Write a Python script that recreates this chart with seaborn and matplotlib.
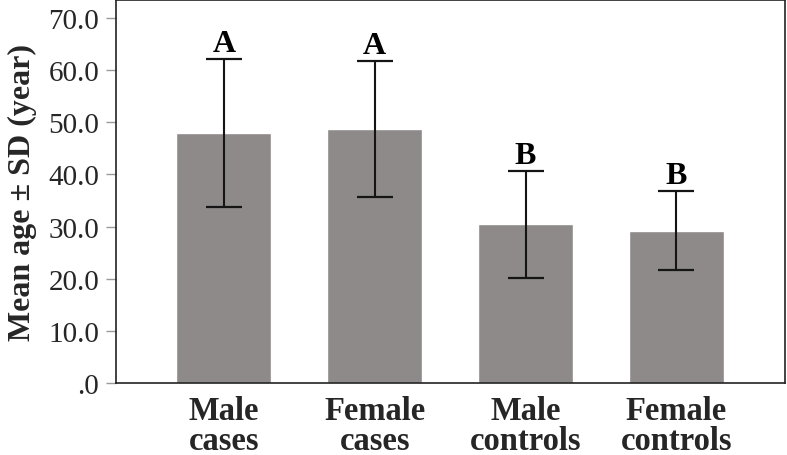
import seaborn as sns
import matplotlib.pyplot as plt
import pandas as pd
from matplotlib.ticker import FuncFormatter

# Values
groups = ["Male\ncases", "Female\ncases", "Male\ncontrols", "Female\ncontrols"]
mean_age = [47.9, 48.7, 30.4, 29.2]
sd_age = [14.2, 13.1, 10.2, 7.6]
letters = ["A", "A", "B", "B"]
y_ticks = [0, 10, 20, 30, 40, 50, 60, 70]

sns.set_style("white")
plt.rcParams["font.family"] = ["Liberation Serif", "DejaVu Serif"]

df = pd.DataFrame({"group": groups, "mean": mean_age, "sd": sd_age})

fig = plt.figure(figsize=(7.87, 4.56), dpi=100)
ax = fig.add_axes([116 / 787, 1 - 384 / 456, (785 - 116) / 787, 383 / 456])

sns.barplot(data=df, x="group", y="mean", color="#8e8a8a", saturation=1,
            width=0.63, errorbar=None, ax=ax)

# Mean +/- SD
ax.errorbar(range(len(groups)), df["mean"], yerr=df["sd"], fmt="none",
            ecolor="#151515", elinewidth=1.5, capsize=13.3, capthick=1.6)

# significance letters on top of the error bars
for i, (m, s, lab) in enumerate(zip(mean_age, sd_age, letters)):
    ax.text(i, m + s + 0.2, lab, ha="center", va="bottom",
            fontsize=23, fontweight="bold", color="black")

ax.set_xlim(-0.715, 3.72)
ax.set_ylim(0, 73.45)
ax.set_yticks(y_ticks)
ax.yaxis.set_major_formatter(FuncFormatter(lambda v, p: f"{v:.1f}".lstrip("0") if v < 1 else f"{v:.1f}"))
ax.tick_params(axis="y", length=7, width=1, color="#999999", direction="out",
               left=True, labelsize=21, pad=5)
ax.tick_params(axis="x", length=0, labelsize=23.5, pad=9)
for lab in ax.get_xticklabels():
    lab.set_fontweight("bold")
    lab.set_linespacing(0.92)

ax.set_xlabel("")
ax.set_ylabel("Mean age \u00b1 SD (year)", fontsize=23, fontweight="bold", labelpad=8)

for sp in ax.spines.values():
    sp.set_visible(True)
    sp.set_color("#222222")
    sp.set_linewidth(1.2)

fig.savefig("out.png", dpi=100)
